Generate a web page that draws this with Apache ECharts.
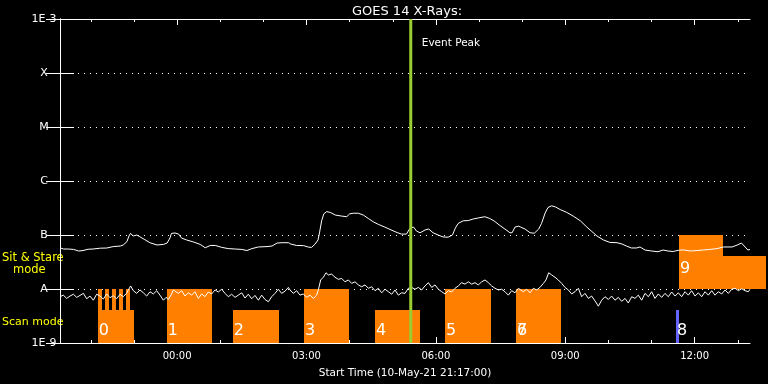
<!DOCTYPE html>
<html><head><meta charset="utf-8">
<script src="https://cdn.jsdelivr.net/npm/echarts@6/dist/echarts.min.js"></script>
<style>html,body{margin:0;padding:0;background:#000}#c{width:768px;height:384px}</style>
</head><body><div id="c"></div>
<script>
// Time: minutes since the start time (10-May-21 21:17:00). Flux: units of 1e-9 W/m^2.
const titleText = 'GOES 14 X-Rays:';
const xAxisTitle = 'Start Time (10-May-21 21:17:00)';
const spanMinutes = 960;
const yTickLabels = ['1E-9', 'A', 'B', 'C', 'M', 'X', '1E-3'];
const xMajorTicks = [163, 343, 523, 703, 883];
const xTickLabels = ['00:00', '03:00', '06:00', '09:00', '12:00'];
const xMinorTicks = [43, 103, 163, 223, 283, 343, 403, 463, 523, 583, 643, 703, 763, 823, 883, 943];

const longMin = [0,5,12,19,26,32,39,46,56,65,74,84,88,93,96,98,102,107,111,118,125,135,144,149,153,155,160,165,169,176,186,195,202,209,216,225,234,244,253,260,267,276,288,295,302,309,318,321,329,339,346,350,355,359,361,364,367,371,376,383,392,399,403,408,415,422,429,436,443,452,459,469,475,482,487,492,496,501,508,513,519,526,533,540,546,550,554,561,568,575,582,591,598,605,612,619,626,629,633,638,641,647,654,660,666,670,675,679,684,689,696,705,714,724,733,740,747,756,765,775,782,788,795,802,807,814,823,832,839,846,853,860,867,877,886,895,904,914,923,935,942,948,952,957,960];
const longFlux = [58,55,55,54,50.5,51.5,54.5,55,57,57.4,61,62.5,65.3,75,96,107,96,100,93,82,72,65.3,67,71,88,107,109,104,88,81,74,67,58,64,64,59,56,55,54,51.5,56,60,61,62.5,71,72,72,68,64,63.5,59.5,59,68,81,109,183,246,271,262,234,224,218,246,253,253,234,202,175,157,140,127,111,104,104,134,140,118,110,124,129,110,100,92,91,100,134,164,183,185,198,207,218,202,178,150,129,110,110,140,146,140,129,110,108,129,164,256,324,347,332,296,262,224,183,140,116,96,81,73,72,68,62.5,57.5,57.5,60,52.7,50.5,49,52.7,50.5,49.5,52,53,50.5,51.5,52.7,54,56,60,60,65,71,62.5,52.7,54];

const shortMin = [0,4.6,9.3,13.9,18.6,23.2,27.8,32.5,37.1,41.7,46.4,51,55.7,60.3,64.9,69.6,74.2,78.8,83.5,88.1,92.8,95.1,98.3,102,106.7,111.3,116,120.6,125.2,129.9,134.5,139.1,143.8,147.5,150.7,154.4,157.7,
160,164.6,169.3,173.9,178.6,183.2,187.8,192.5,197.1,201.7,206.4,211,215.7,220.3,224.9,229.6,234.2,238.8,243.5,248.1,252.8,257.4,262,266.7,271.3,276,280.6,285.2,289.9,294.5,299.1,303.8,308.4,313,317.7,
320,324.6,329.3,333.9,338.6,343.2,347.8,352.5,357.1,359.4,362.7,366.4,370.1,373.3,378,382.6,387.3,391.9,396.5,401.2,405.8,410.4,415.1,419.7,424.4,429,433.6,438.3,442.9,447.5,452.2,456.8,461.5,466.1,470.7,475.4,
480,484.6,489.3,493.9,498.6,503.2,507.8,512.5,517.1,521.7,526.4,531,535.7,540.3,544.9,549.6,554.2,558.8,563.5,568.1,572.8,577.4,582,586.7,591.3,596,600.6,605.2,609.9,614.5,619.1,623.8,628.4,633,637.7,
640,644.6,649.3,653.9,658.6,663.2,667.8,672.5,676.2,679.9,684.1,688.7,693.3,698,702.6,707.3,711.9,716.5,721.2,725.8,730.4,735.1,739.7,744.4,749,753.6,758.3,762.9,767.5,772.2,776.8,781.5,786.1,790.7,795.4,
800,804.6,809.3,813.9,818.6,823.2,827.8,832.5,837.1,841.7,846.4,851,855.7,860.3,864.9,869.6,874.2,878.8,883.5,888.1,892.8,897.4,902,906.7,911.3,916,920.6,925.2,929.9,934.5,939.1,943.8,948.4,953,957.7,960];
const shortFlux = [7.2,7.7,6.7,7.4,8.0,7.0,7.6,8.3,6.6,7.4,6.2,8.0,7.4,6.5,8.1,6.9,7.5,6.6,8.0,7.2,8.4,9.6,11.4,9.3,8.3,9.6,8.5,7.4,8.9,8.1,9.3,7.7,6.2,7.0,6.4,7.7,9.6,
9.9,8.3,9.3,7.4,8.5,7.7,8.9,6.7,8.1,7.2,8.8,8.1,9.6,8.8,9.9,8.3,7.2,8.0,7.0,7.7,8.5,6.8,8.0,6.6,7.6,6.2,7.7,6.4,5.8,7.2,8.3,9.9,8.3,9.1,10.7,
9.6,8.3,9.3,7.7,8.1,7.0,7.7,6.7,7.7,9.6,14.7,16.5,20,18.2,18.9,16.5,15.1,15.7,13.6,14.7,12.7,13.6,11.9,11.0,11.9,10.3,11.0,9.3,10.3,8.5,9.9,8.9,8.0,9.6,7.7,8.5,
8.3,10.3,10.7,9.9,10.7,9.6,11.4,13.1,10.7,11.9,9.9,8.9,8.1,9.3,8.8,10.3,11.4,13.1,12.3,13.6,12.3,13.1,11.9,13.6,14.7,13.1,11.4,10.3,9.6,9.9,8.9,7.7,9.3,8.5,10.3,
10.3,8.9,9.9,8.5,10.3,9.6,10.7,12.7,14.7,20,18.2,16.5,14.7,12.7,10.7,9.6,8.1,8.9,10.3,7.2,8.3,6.7,7.4,6.0,4.8,6.2,7.2,6.4,7.4,6.2,7.0,5.9,6.7,5.5,7.2,
6.7,7.7,6.2,8.3,7.2,8.9,6.7,8.1,7.0,8.3,7.2,8.8,7.4,8.5,7.2,8.9,7.7,9.3,7.4,8.5,7.2,8.9,7.7,9.3,7.7,8.9,8.1,9.6,8.3,9.9,10.3,9.3,10.1,9.3,8.9,9.9];

// Observation blocks (mode rectangles)
const segStart = [52.5, 52.5, 62.6, 72.3, 82.1, 91.8, 148.4, 240.3, 339.5, 438.3, 535.7, 634.4, 634.4, 857, 861.2, 922];
const segEnd   = [102.5, 58, 67.8, 77.5, 87.2, 97, 211, 304.7, 402, 500.9, 599.7, 696.6, 696.6, 861.2, 922, 982];
const segLow   = [1, 4.08, 4.08, 4.08, 4.08, 4.08, 1, 1, 1, 1, 1, 1, 1, 1, 10, 10];
const segHigh  = [4.08, 10, 10, 10, 10, 10, 10, 4.08, 10, 4.08, 10, 10, 10, 4.08, 100, 40.8];
const segKind  = ['o','o','o','o','o','o','o','o','o','o','o','o','o','b','o','o'];

const blockLabels = ['0', '1', '2', '3', '4', '5', '6', '7', '8', '9'];
const blockLabelMin = [52.5, 148.4, 240.3, 339.5, 438.3, 535.7, 634.4, 634.4, 857, 861.2];
const blockLabelFlux = [1.19, 1.19, 1.19, 1.19, 1.19, 1.19, 1.19, 1.19, 1.19, 16.7];

const eventPeakMin = 488;
const eventLabel = 'Event Peak';

const FONT = 'DejaVu Sans';
const chart = echarts.init(document.getElementById('c'), null, {renderer: 'canvas'});

const zip = (a, b) => a.map((v, i) => [v, b[i]]);
const colors = {o: '#ff8000', b: '#6464ff'};

function xAxisBase(pos, ticks, len, showLine) {
  return {
    type: 'value', position: pos, min: 0, max: spanMinutes,
    axisLine: {show: showLine, onZero: false, lineStyle: {color: '#fff', width: 1}},
    axisTick: {show: true, inside: true, length: len, customValues: ticks, lineStyle: {color: '#fff', width: 1}},
    axisLabel: {show: false}, splitLine: {show: false}
  };
}

const xBottom = xAxisBase('bottom', xMinorTicks, 3, true);
xBottom.axisLabel = {
  show: true, customValues: xMajorTicks, color: '#fff', fontSize: 10, fontFamily: FONT, margin: 8,
  formatter: v => { const i = xMajorTicks.indexOf(Math.round(v)); return i >= 0 ? xTickLabels[i] : ''; }
};
xBottom.name = xAxisTitle;
xBottom.nameLocation = 'middle';
xBottom.nameGap = 25;
xBottom.nameTextStyle = {color: '#fff', fontSize: 10.5, fontFamily: FONT};

const yLabelFor = v => yTickLabels[Math.round(Math.log10(v))] || '';

chart.setOption({
  backgroundColor: '#000',
  animation: false,
  title: {
    text: titleText, left: 402, top: 0, textAlign: 'center',
    textStyle: {color: '#fff', fontSize: 13, fontWeight: 'normal', fontFamily: FONT}
  },
  grid: {left: 60, right: 18, top: 19, bottom: 41, containLabel: false},
  xAxis: [
    xBottom,
    xAxisBase('bottom', xMajorTicks, 6, false),
    xAxisBase('top', xMinorTicks, 3, true),
    xAxisBase('top', xMajorTicks, 6, false)
  ],
  yAxis: [
    {
      type: 'log', logBase: 10, min: 1, max: 1e6, interval: 1, position: 'left',
      axisLine: {show: true, lineStyle: {color: '#fff', width: 1}},
      axisTick: {show: true, inside: true, length: 14, lineStyle: {color: '#fff', width: 1}},
      axisLabel: {color: '#fff', fontSize: 11, fontFamily: FONT, align: 'center', margin: 16, formatter: yLabelFor},
      splitLine: {show: true, lineStyle: {color: '#fff', width: 1, type: [1, 5]}},
      minorTick: {show: false}
    },
    {
      type: 'log', logBase: 10, min: 1, max: 1e6, interval: 1, position: 'right',
      axisLine: {show: true, lineStyle: {color: '#fff', width: 1}},
      axisTick: {show: true, inside: true, length: 14, lineStyle: {color: '#fff', width: 1}},
      axisLabel: {show: false}, splitLine: {show: false}
    }
  ],
  graphic: [
    {type: 'text', left: 2, top: 252, style: {text: 'Sit & Stare', fill: '#ffff00', font: '11.5px "DejaVu Sans"'}},
    {type: 'text', left: 13, top: 264, style: {text: 'mode', fill: '#ffff00', font: '11.5px "DejaVu Sans"'}},
    {type: 'text', left: 2, top: 317, style: {text: 'Scan mode', fill: '#ffff00', font: '11px "DejaVu Sans"'}}
  ],
  series: [
    {
      type: 'custom', name: 'blocks', z: 1, clip: false,
      encode: {x: [0, 1], y: [2, 3]},
      data: segStart.map((s, i) => [s, segEnd[i], segLow[i], segHigh[i]]),
      renderItem: (params, api) => {
        const p0 = api.coord([api.value(0), api.value(3)]);
        const p1 = api.coord([api.value(1), api.value(2)]);
        const x0 = Math.round(p0[0]), y0 = Math.round(p0[1]);
        const x1 = Math.round(p1[0]), y1 = Math.round(p1[1]);
        return {type: 'rect', shape: {x: x0, y: y0, width: x1 - x0, height: y1 - y0},
          style: {fill: colors[segKind[params.dataIndex]]}};
      }
    },
    {
      type: 'line', name: 'long', z: 3, showSymbol: false, symbol: 'none',
      data: zip(longMin, longFlux), lineStyle: {color: '#fff', width: 1}
    },
    {
      type: 'line', name: 'short', z: 3, showSymbol: false, symbol: 'none',
      data: zip(shortMin, shortFlux), lineStyle: {color: '#fff', width: 1}
    },
    {
      type: 'custom', name: 'labels', z: 4, clip: false,
      encode: {x: 0, y: 1},
      data: zip(blockLabelMin, blockLabelFlux),
      renderItem: (params, api) => {
        const p = api.coord([api.value(0), api.value(1)]);
        return {type: 'text', x: p[0] + 1, y: p[1],
          style: {text: blockLabels[params.dataIndex], fill: '#fff', font: '16px "DejaVu Sans"',
            align: 'left', textAlign: 'left', verticalAlign: 'bottom', textVerticalAlign: 'bottom'}};
      }
    },
    {
      type: 'custom', name: 'event', z: 5, clip: false,
      encode: {x: 0},
      data: [[eventPeakMin, 1]],
      renderItem: (params, api) => {
        const top = api.coord([api.value(0), 1e6]);
        const bot = api.coord([api.value(0), 1]);
        return {type: 'group', children: [
          {type: 'line', shape: {x1: top[0], y1: top[1], x2: bot[0], y2: bot[1]},
            style: {stroke: '#9acd32', lineWidth: 3}},
          {type: 'text', x: top[0] + 11, y: top[1] + 24,
            style: {text: eventLabel, fill: '#fff', font: '10.5px "DejaVu Sans"',
              align: 'left', textAlign: 'left', verticalAlign: 'middle', textVerticalAlign: 'middle'}}
        ]};
      }
    }
  ]
});
</script></body></html>
